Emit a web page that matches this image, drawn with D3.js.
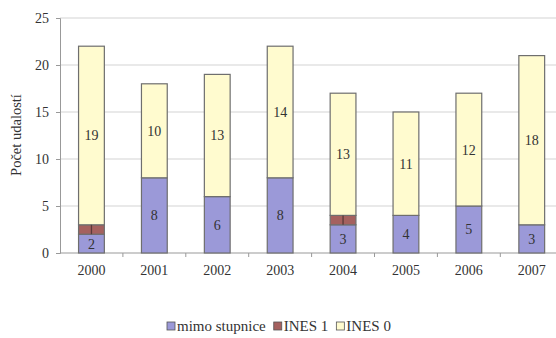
<!DOCTYPE html>
<html>
<head>
<meta charset="utf-8">
<script src="https://cdn.jsdelivr.net/npm/d3@7"></script>
<style>
  body { margin: 0; background: #fff; }
  svg text { font-family: "Liberation Serif", "Times New Roman", serif !important; }
</style>
</head>
<body>
<svg id="chart" width="556" height="338" font-family="Liberation Serif"></svg>
<script>
// data
const years = ["2000", "2001", "2002", "2003", "2004", "2005", "2006", "2007"];
const mimo = [2, 8, 6, 8, 3, 4, 5, 3];
const ines1 = [1, 0, 0, 0, 1, 0, 0, 0];
const ines0 = [19, 10, 13, 14, 13, 11, 12, 18];
const seriesNames = ["mimo stupnice", "INES 1", "INES 0"];
const yTicks = [0, 5, 10, 15, 20, 25];

const colors = ["#9b99d8", "#a5615f", "#fffbcf"];

const svg = d3.select("#chart");
const m = { left: 60, top: 18, bottom: 253 };

const table = years.map((y, i) => ({ year: y, s0: mimo[i], s1: ines1[i], s2: ines0[i] }));
const stack = d3.stack().keys(["s0", "s1", "s2"])(table);

const x = d3.scaleBand().domain(years).range([m.left, m.left + 8 * 62.9]).paddingInner(0.59).paddingOuter(0.295);
const y = d3.scaleLinear().domain([0, 25]).range([m.bottom, m.top]);

// mřížka
svg.append("g")
  .selectAll("line")
  .data(yTicks.slice(1))
  .enter()
  .append("line")
  .attr("x1", m.left)
  .attr("x2", 556)
  .attr("y1", (d) => y(d))
  .attr("y2", (d) => y(d))
  .attr("stroke", "#d4d4d4")
  .attr("stroke-width", 1.2);

// osa y
const yAxis = svg.append("g")
  .attr("transform", `translate(${m.left},0)`)
  .call(d3.axisLeft(y).tickValues(yTicks).tickSize(4).tickPadding(7));
yAxis.attr("font-family", null);
yAxis.select(".domain").attr("stroke", "#999");
yAxis.selectAll(".tick line").attr("stroke", "#999");
yAxis.selectAll("text").style("font-size", "14px").attr("fill", "#333");

// osa x
const xAxis = svg.append("g")
  .attr("transform", `translate(0,${m.bottom})`)
  .call(d3.axisBottom(x).tickSize(0).tickPadding(12));
xAxis.attr("font-family", null);
xAxis.select(".domain").attr("stroke", "#999").attr("d", `M${m.left},0H556`);
xAxis.selectAll("text").style("font-size", "14px").attr("fill", "#333");

// značky mezi kategoriemi
svg.append("g")
  .selectAll("line")
  .data(years.slice(1))
  .enter()
  .append("line")
  .attr("x1", (d) => x(d) - x.step() * x.paddingInner() / 2)
  .attr("x2", (d) => x(d) - x.step() * x.paddingInner() / 2)
  .attr("y1", m.bottom)
  .attr("y2", m.bottom + 4)
  .attr("stroke", "#999");

// sloupce
const layers = svg.append("g")
  .selectAll("g")
  .data(stack)
  .enter()
  .append("g")
  .attr("fill", (d, i) => colors[i]);

layers.selectAll("rect")
  .data((d) => d.filter((p) => p[1] > p[0]))
  .enter()
  .append("rect")
  .attr("x", (d) => x(d.data.year))
  .attr("width", x.bandwidth())
  .attr("y", (d) => y(d[1]))
  .attr("height", (d) => y(d[0]) - y(d[1]))
  .attr("stroke", "#6e6e6e")
  .attr("stroke-width", 1.2);

// INES 1 – malý segment se svislou čárkou
svg.append("g")
  .selectAll("line")
  .data(stack[1].filter((p) => p[1] > p[0]))
  .enter()
  .append("line")
  .attr("x1", (d) => x(d.data.year) + x.bandwidth() / 2)
  .attr("x2", (d) => x(d.data.year) + x.bandwidth() / 2)
  .attr("y1", (d) => y(d[1]))
  .attr("y2", (d) => y(d[0]))
  .attr("stroke", "#5a3a3a")
  .attr("stroke-width", 1.3);

// popisky hodnot
[0, 2].forEach((k) => {
  svg.append("g")
    .selectAll("text")
    .data(stack[k].filter((p) => p[1] > p[0]))
    .enter()
    .append("text")
    .attr("x", (d) => x(d.data.year) + x.bandwidth() / 2)
    .attr("y", (d) => (y(d[0]) + y(d[1])) / 2)
    .attr("dy", "0.35em")
    .attr("text-anchor", "middle")
    .style("font-size", "14px")
    .attr("fill", "#333")
    .text((d) => d[1] - d[0]);
});

// popisek osy y
svg.append("text")
  .attr("transform", `translate(21,135) rotate(-90)`)
  .attr("text-anchor", "middle")
  .style("font-size", "14.5px")
  .attr("fill", "#333")
  .text("Počet udalostí");

// legenda
const legend = svg.append("g").attr("transform", "translate(167,331)");
let lx = 0;
seriesNames.forEach((name, i) => {
  const g = legend.append("g").attr("transform", `translate(${lx},0)`);
  g.append("rect")
    .attr("x", 0)
    .attr("y", -9)
    .attr("width", 8)
    .attr("height", 8)
    .attr("fill", colors[i])
    .attr("stroke", "#555")
    .attr("stroke-width", 0.8);
  const t = g.append("text")
    .attr("x", 10)
    .attr("y", 0)
    .style("font-size", "15px")
    .attr("fill", "#333")
    .text(name);
  lx += 10 + t.node().getComputedTextLength() + 8;
});
</script>
</body>
</html>
